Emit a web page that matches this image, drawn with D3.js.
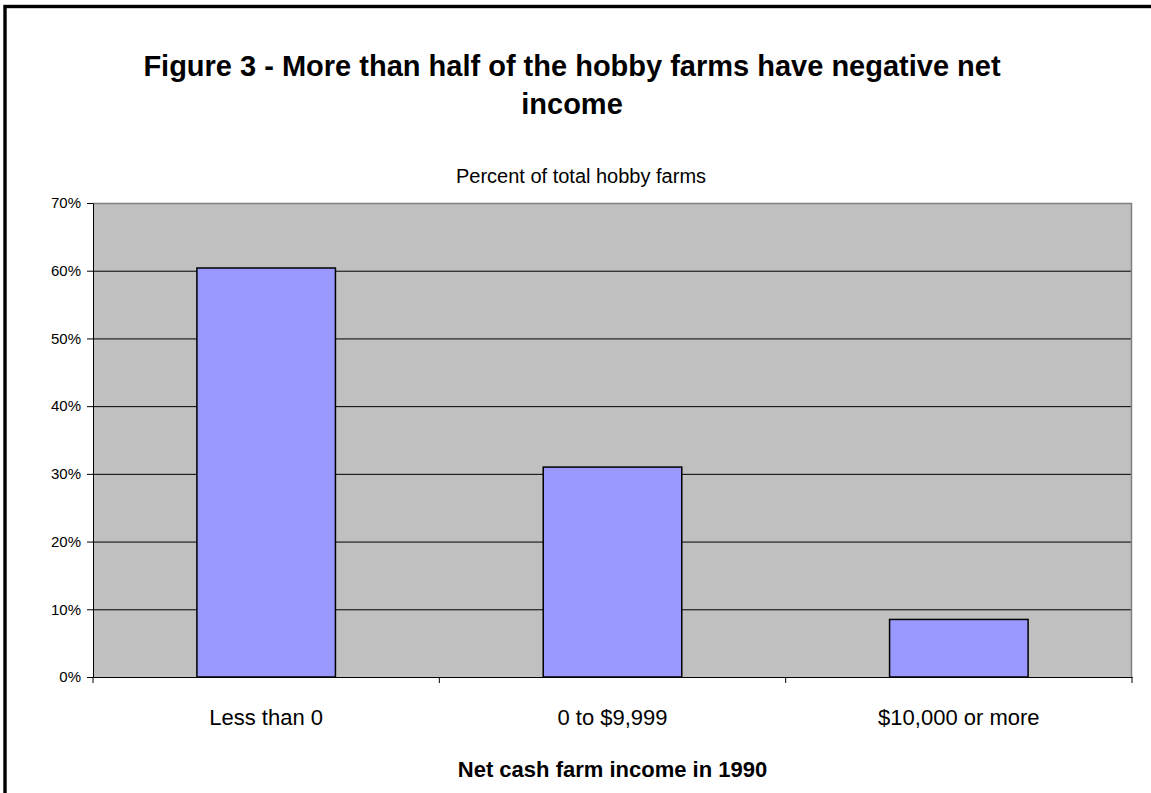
<!DOCTYPE html>
<html>
<head>
<meta charset="utf-8">
<script src="https://cdn.jsdelivr.net/npm/d3@7"></script>
<style>
  body { margin: 0; background: #fff; }
  svg { display: block; font-family: "Liberation Sans", Arial, sans-serif; }
</style>
</head>
<body>
<div id="chart"></div>
<script>
const categories = ['Less than 0', '0 to $9,999', '$10,000 or more'];
const shares = [0.604, 0.31, 0.085];
const yTicks = [0, 0.1, 0.2, 0.3, 0.4, 0.5, 0.6, 0.7];
const titleLines = ['Figure 3 - More than half of the hobby farms have negative net', 'income'];

const width = 1151;
const height = 793;

const svg = d3.select('#chart')
  .append('svg')
  .attr('width', width)
  .attr('height', height);

// outer frame (right and bottom edges fall outside the picture)
svg.append('rect')
  .attr('x', 5)
  .attr('y', 6.5)
  .attr('width', 1300)
  .attr('height', 1000)
  .attr('fill', 'none')
  .attr('stroke', '#000')
  .attr('stroke-width', 3.4);

const plot = { left: 93, right: 1132, top: 203, bottom: 677 };

const x = d3.scaleBand()
  .domain(categories)
  .range([plot.left, plot.right])
  .paddingInner(0.6)
  .paddingOuter(0.3);

const y = d3.scaleLinear()
  .domain([0, 0.7])
  .range([plot.bottom, plot.top]);

// plot background
svg.append('rect')
  .attr('x', plot.left)
  .attr('y', plot.top)
  .attr('width', plot.right - plot.left)
  .attr('height', plot.bottom - plot.top)
  .attr('fill', '#c0c0c0');

// gridlines
svg.append('g')
  .attr('transform', `translate(${plot.left}, 0)`)
  .call(d3.axisLeft(y).tickValues(yTicks.slice(1, -1)).tickFormat('').tickSize(-(plot.right - plot.left)))
  .call(g => g.select('.domain').remove())
  .call(g => g.selectAll('line').attr('stroke', '#000').attr('stroke-width', 1));

// plot border top / right
svg.append('path')
  .attr('d', `M${plot.left},${plot.top + 0.5}H${plot.right - 0.5}V${plot.bottom}`)
  .attr('fill', 'none')
  .attr('stroke', '#808080')
  .attr('stroke-width', 1.5);

// bars
svg.append('g')
  .selectAll('rect')
  .data(shares)
  .join('rect')
  .attr('x', (d, i) => x(categories[i]))
  .attr('y', d => y(d))
  .attr('width', x.bandwidth())
  .attr('height', d => y(0) - y(d))
  .attr('fill', '#9999ff')
  .attr('stroke', '#000')
  .attr('stroke-width', 1.5);

// y axis
svg.append('g')
  .attr('transform', `translate(${plot.left}, 0)`)
  .call(d3.axisLeft(y).tickValues(yTicks).tickFormat(d3.format('.0%')).tickSizeInner(6).tickSizeOuter(0).tickPadding(6))
  .call(g => g.selectAll('text').attr('font-size', 15).attr('fill', '#000').style('font-family', '"Liberation Sans", Arial, sans-serif'))
  .call(g => g.selectAll('line, .domain').attr('stroke', '#000'));

// x axis labels
svg.append('g')
  .attr('transform', `translate(0, ${plot.bottom})`)
  .call(d3.axisBottom(x).tickSizeInner(0).tickSizeOuter(0).tickPadding(32))
  .call(g => g.selectAll('text').attr('font-size', 22).attr('fill', '#000').style('font-family', '"Liberation Sans", Arial, sans-serif'))
  .call(g => g.select('.domain').attr('stroke', '#000'));

// category boundary ticks
const bounds = d3.range(categories.length + 1).map(i => plot.left + i * x.step());
svg.append('g')
  .selectAll('line')
  .data(bounds)
  .join('line')
  .attr('x1', d => d)
  .attr('x2', d => d)
  .attr('y1', plot.bottom)
  .attr('y2', plot.bottom + 6)
  .attr('stroke', '#000');

// titles
svg.append('text')
  .attr('x', 572)
  .attr('y', 76)
  .attr('text-anchor', 'middle')
  .attr('font-size', 29)
  .attr('font-weight', 'bold')
  .selectAll('tspan')
  .data(titleLines)
  .join('tspan')
  .attr('x', 572)
  .attr('dy', (d, i) => i === 0 ? 0 : 38)
  .text(d => d);

svg.append('text')
  .attr('x', 581)
  .attr('y', 183)
  .attr('text-anchor', 'middle')
  .attr('font-size', 20)
  .text('Percent of total hobby farms');

svg.append('text')
  .attr('x', (plot.left + plot.right) / 2)
  .attr('y', 777)
  .attr('text-anchor', 'middle')
  .attr('font-size', 22)
  .attr('font-weight', 'bold')
  .text('Net cash farm income in 1990');
</script>
</body>
</html>
